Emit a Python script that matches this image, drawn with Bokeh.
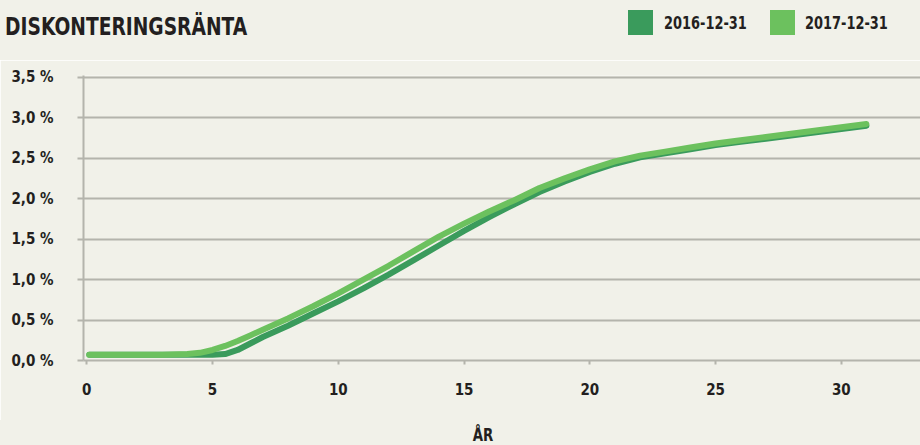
from bokeh.plotting import figure
from bokeh.layouts import column
from bokeh.models import ColumnDataSource, FixedTicker, Div
from bokeh.embed import file_html
from bokeh.resources import INLINE

# Discount rate curves (percent) by maturity in years
years = [0.1, 1, 2, 3, 4, 4.5, 5, 5.5, 6, 6.5, 7, 8, 9, 10, 11, 12, 13, 14, 15,
         16, 17, 18, 19, 20, 21, 22, 23, 24, 25, 26, 27, 28, 29, 30, 31]
rate_2016 = [0.07, 0.07, 0.07, 0.07, 0.07, 0.07, 0.07, 0.08, 0.13, 0.21, 0.29, 0.43, 0.58,
             0.73, 0.89, 1.06, 1.24, 1.42, 1.60, 1.77, 1.93, 2.08, 2.21, 2.33, 2.43,
             2.51, 2.56, 2.61, 2.66, 2.70, 2.74, 2.78, 2.82, 2.86, 2.90]
rate_2017 = [0.07, 0.07, 0.07, 0.07, 0.08, 0.095, 0.13, 0.18, 0.24, 0.31, 0.38, 0.52, 0.67,
             0.83, 1.00, 1.17, 1.35, 1.53, 1.69, 1.84, 1.98, 2.13, 2.25, 2.36, 2.46,
             2.53, 2.58, 2.63, 2.68, 2.72, 2.76, 2.80, 2.84, 2.88, 2.92]

series_names = ["2016-12-31", "2017-12-31"]
x_ticks = [0, 5, 10, 15, 20, 25, 30]
y_ticks = [0.0, 0.5, 1.0, 1.5, 2.0, 2.5, 3.0, 3.5]
y_tick_labels = ["0,0 %", "0,5 %", "1,0 %", "1,5 %", "2,0 %", "2,5 %", "3,0 %", "3,5 %"]
title_text = "DISKONTERINGSRÄNTA"
x_title = "ÅR"

DARK = "#3A9B5C"
LIGHT = "#6CC15E"
BG = "#F1F1E9"
GRID = "#B4B4AC"
INK = "#231F20"
FONT = "DejaVu Sans Condensed"
series_colors = [DARK, LIGHT]

W = 920
HEAD_H, MAIN_H, FOOT_H = 60, 360, 25

base_css = (f"position:relative;width:{W}px;height:{{h}}px;background:{BG};margin:0;"
            f"font-family:'{FONT}';font-weight:bold;color:{INK};")
narrow = "transform-origin:0 50%;white-space:nowrap;"

# header: title on the left, legend swatches on the right
legend_html = ""
for (sq_left, txt_left), name, col in zip([(628, 664), (770, 805)], series_names, series_colors):
    legend_html += (f"<span style='position:absolute;left:{sq_left}px;top:10px;width:25px;"
                    f"height:25px;background:{col};'></span>"
                    f"<span style='position:absolute;left:{txt_left}px;top:10px;height:25px;"
                    f"line-height:25px;font-size:18px;transform:scaleX(0.8);{narrow}'>{name}</span>")
head_html = (f"<div style=\"{base_css.format(h=HEAD_H)}\">"
             f"<span style='position:absolute;left:5px;top:14px;font-size:25px;line-height:1;"
             f"transform:scaleX(0.83);{narrow}'>{title_text}</span>{legend_html}</div>")
head = Div(text=head_html, width=W, height=HEAD_H, margin=(0, 0, 0, 0))

# main chart
p = figure(width=W, height=MAIN_H, x_range=(-0.13, 33.15), y_range=(0, 3.52),
           output_backend="svg", toolbar_location=None,
           min_border_left=83, min_border_right=0, min_border_top=15, min_border_bottom=60,
           margin=(0, 0, 0, 0))
p.background_fill_color = BG
p.border_fill_color = BG
p.outline_line_color = None

p.xgrid.visible = False
p.ygrid.grid_line_color = GRID
p.ygrid.grid_line_width = 2
p.ygrid.ticker = FixedTicker(ticks=y_ticks)

ya = p.yaxis[0]
ya.ticker = FixedTicker(ticks=y_ticks)
ya.major_label_overrides = {t: s for t, s in zip(y_ticks, y_tick_labels)}
ya.axis_line_color = GRID
ya.axis_line_width = 2
ya.major_tick_line_color = GRID
ya.major_tick_line_width = 2
ya.major_tick_out = 6
ya.major_tick_in = 0
ya.minor_tick_line_color = None
ya.major_label_standoff = 24
ya.major_label_text_font = FONT
ya.major_label_text_font_style = "bold"
ya.major_label_text_font_size = "15px"
ya.major_label_text_color = INK

xa = p.xaxis[0]
xa.ticker = FixedTicker(ticks=x_ticks)
xa.axis_line_color = GRID
xa.axis_line_width = 2
xa.major_tick_line_color = GRID
xa.major_tick_line_width = 2
xa.major_tick_out = 4
xa.major_tick_in = 0
xa.minor_tick_line_color = None
xa.major_label_standoff = 18
xa.major_label_text_font = FONT
xa.major_label_text_font_style = "bold"
xa.major_label_text_font_size = "15px"
xa.major_label_text_color = INK

src = ColumnDataSource(dict(x=years, a=rate_2016, b=rate_2017))
p.line("x", "a", source=src, line_color=DARK, line_width=6,
       line_cap="round", line_join="round")
p.line("x", "b", source=src, line_color=LIGHT, line_width=6,
       line_cap="round", line_join="round")

# footer: x axis title
foot_html = (f"<div style=\"{base_css.format(h=FOOT_H)}\">"
             f"<span style='position:absolute;left:483px;top:6px;font-size:17px;line-height:1.1;"
             f"transform:translateX(-50%) scaleX(0.87);transform-origin:50% 50%;"
             f"white-space:nowrap;'>{x_title}</span></div>")
foot = Div(text=foot_html, width=W, height=FOOT_H, margin=(0, 0, 0, 0))

page = column(head, p, foot, spacing=0)
open("out.html", "w").write(file_html(page, INLINE))
